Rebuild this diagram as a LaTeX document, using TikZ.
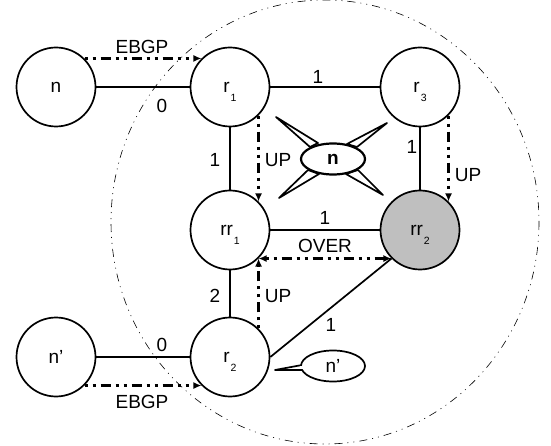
\documentclass[tikz,border=0pt]{standalone}
\usepackage{fontspec}
\setmainfont{Liberation Sans}
\usetikzlibrary{arrows.meta,shapes.geometric}
\tikzset{
  x=1pt,y=-1pt,
  router/.style={draw,circle,line width=1.7pt,minimum size=79pt,inner sep=0pt,fill=white,font=\fontsize{19}{19}\selectfont},
  link/.style={line width=1.7pt},
  sess/.style={line width=2.2pt,dash pattern=on 3pt off 5pt on 3pt off 5pt on 10pt off 5pt,-{Latex[length=8pt,width=7pt]}},
  lbl/.style={inner sep=0pt,font=\fontsize{19}{19}\selectfont},
  call/.style={line width=1.7pt,fill=white,line join=round},
  bub/.style={draw,ellipse,line width=1.7pt,fill=white,inner sep=0pt,minimum width=64pt,minimum height=31pt,font=\fontsize{19}{19}\selectfont},
}
\newcommand{\rsub}[2]{#1\kern1pt\smash{\raisebox{-9pt}{\fontsize{10.5}{10.5}\selectfont #2}}}
\begin{document}
\begin{tikzpicture}
\useasboundingbox (0,0) rectangle (551,446);
\fill[white] (0,0) rectangle (551,446);
\draw[line width=.6pt,dash pattern=on 8pt off 5pt on 1pt off 5pt on 1pt off 5pt] (325,222) ellipse[x radius=214,y radius=222];
\node[router,fill=none] (n) at (56,87) {n};
\node[router,fill=none] (r1) at (230,87) {\rsub{r}{1}};
\node[router,fill=none] (r3) at (420,87) {\rsub{r}{3}};
\node[router,fill=none] (rr1) at (230,230) {\rsub{rr}{1}};
\node[router,fill=black!25] (rr2) at (420,230) {\rsub{rr}{2}};
\node[router,fill=none] (r2) at (230,357) {\rsub{r}{2}};
\node[router,fill=none] (np) at (56,357) {n'};
\draw[link] (n) -- (r1);
\draw[link] (r1) -- (r3);
\draw[link] (r1) -- (rr1);
\draw[link] (r3) -- (rr2);
\draw[link] (rr1) -- (rr2);
\draw[link] (rr1) -- (r2);
\draw[link] (np) -- (r2);
\draw[link] (r2.east) -- (rr2.south west);
\draw[sess] (n.north east) -- (r1.north west);
\draw[sess] (np.south east) -- (r2.south west);
\draw[sess] (r1.south east) -- (rr1.north east);
\draw[sess] (r3.south east) -- (rr2.north east);
\draw[sess] (r2.north east) -- (rr1.south east);
\draw[sess,{Latex[length=8pt,width=7pt]}-{Latex[length=8pt,width=7pt]}] (rr1.south east) -- (rr2.south west);
% star callout
\draw[call] (310,147) -- (276,117) -- (318,143) -- cycle;
\draw[call] (347,144) -- (387,123) -- (357,147) -- cycle;
\draw[call] (358,170) -- (383,195) -- (346,174) -- cycle;
\draw[call] (319,174) -- (279,198) -- (308,170) -- cycle;
\node[bub,line width=2.2pt,font=\fontsize{19}{19}\selectfont\bfseries] (star) at (333,159) {n};
% tail callout
\draw[call] (303,370) -- (275,370) -- (302,365) -- cycle;
\node[bub] (tail) at (333,366) {n'};
\fill[white] (300,366.2) -- (305,366.2) -- (305,369.2) -- (300,369.2) -- cycle;
\node[lbl] (l1) at (142,47) {EBGP};
\node[lbl] (l2) at (162,106) {0};
\node[lbl] (l3) at (318,77) {1};
\node[lbl] (l4) at (215,160) {1};
\node[lbl] (l5) at (278,160) {UP};
\node[lbl] (l6) at (412,147) {1};
\node[lbl] (l7) at (468,175) {UP};
\node[lbl] (l8) at (325,218) {1};
\node[lbl] (l9) at (325,246) {OVER};
\node[lbl] (l10) at (215,296) {2};
\node[lbl] (l11) at (278,296) {UP};
\node[lbl] (l12) at (331,325) {1};
\node[lbl] (l13) at (162,345) {0};
\node[lbl] (l14) at (142,402) {EBGP};
\end{tikzpicture}
\end{document}
